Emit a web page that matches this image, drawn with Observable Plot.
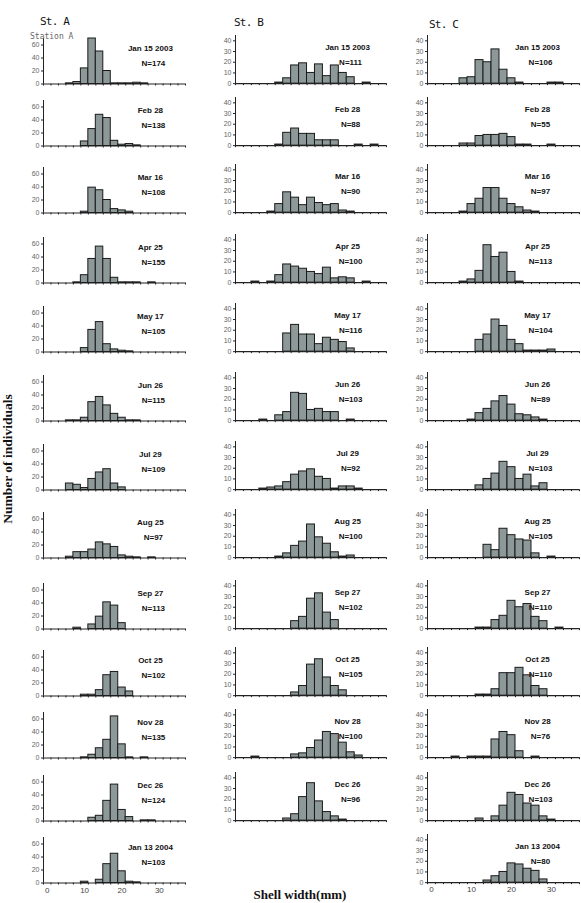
<!DOCTYPE html>
<html><head><meta charset="utf-8">
<script src="https://cdn.jsdelivr.net/npm/d3@7"></script>
<script src="https://cdn.jsdelivr.net/npm/@observablehq/plot@0.6"></script>
<style>
html,body{margin:0;padding:0;background:#fff;}
#root{position:relative;width:581px;height:903px;overflow:hidden;background:#fff;font-family:"Liberation Sans",Arial,sans-serif;}
.panel{position:absolute;}
.st{position:absolute;font-family:"DejaVu Sans Mono",monospace;font-size:11px;color:#111;letter-spacing:-0.8px;}
.sta{position:absolute;font-family:"DejaVu Sans Mono",monospace;font-size:8px;color:#666;}
.ytitle{position:absolute;font-family:"Liberation Serif","Times New Roman",serif;font-weight:bold;font-size:13.5px;color:#111;white-space:nowrap;transform:translate(-50%,-50%) rotate(-90deg);}
.xtitle{position:absolute;font-family:"Liberation Serif","Times New Roman",serif;font-weight:bold;font-size:13px;line-height:13px;color:#111;white-space:nowrap;transform:translateX(-50%);}
</style></head>
<body><div id="root"></div>
<script>
// ---- data ----
const binCenters = [0,2,4,6,8,10,12,14,16,18,20,22,24,26,28,30,32,34,36];
const binEdges = [-1,1,3,5,7,9,11,13,15,17,19,21,23,25,27,29,31,33,35,37];
const xTickLabels = [0,10,20,30];

const datesA = ["Jan 15 2003","Feb 28","Mar 16","Apr 25","May 17","Jun 26","Jul 29","Aug 25","Sep 27","Oct 25","Nov 28","Dec 26","Jan 13 2004"];
const nA = [174,138,108,155,105,115,109,97,113,102,135,124,103];
const countsA = [
  [0,0,0,1,3,24,70,50,20,1,1,1,2,1,0,0,0,0,0],
  [0,0,0,0,0,7,26,48,43,8,2,3,1,0,0,0,0,0,0],
  [0,0,0,0,0,2,39,35,20,6,4,2,0,0,0,0,0,0,0],
  [0,0,0,0,1,12,37,56,37,8,1,1,1,0,1,0,0,0,0],
  [0,0,0,0,0,6,34,46,12,4,2,1,0,0,0,0,0,0,0],
  [0,0,0,1,1,5,29,37,24,11,5,1,1,0,0,0,0,0,0],
  [0,0,0,10,8,3,17,27,32,10,4,0,0,0,0,0,0,0,0],
  [0,0,0,2,9,9,13,24,21,17,4,2,1,0,1,0,0,0,0],
  [0,0,0,0,2,0,7,19,41,36,9,0,0,0,0,0,0,0,0],
  [0,0,0,0,0,2,2,9,32,37,13,7,0,0,0,0,0,0,0],
  [0,0,0,0,0,1,5,15,28,64,21,1,0,1,0,0,0,0,0],
  [0,0,0,0,0,0,5,8,31,56,17,6,0,1,1,0,0,0,0],
  [0,0,0,0,0,2,0,5,29,45,18,2,1,0,0,0,0,0,0]
];

const datesB = ["Jan 15 2003","Feb 28","Mar 16","Apr 25","May 17","Jun 26","Jul 29","Aug 25","Sep 27","Oct 25","Nov 28","Dec 26"];
const nB = [111,88,90,100,116,103,92,100,102,105,100,96];
const countsB = [
  [0,0,0,0,0,1,5,17,19,10,18,7,17,10,6,0,1,0,0],
  [0,0,0,0,0,1,12,16,11,11,5,5,5,0,0,1,0,1,0],
  [0,0,0,0,1,8,19,14,7,14,9,7,8,2,1,0,0,0,0],
  [0,0,1,0,1,7,17,15,13,10,8,14,4,5,4,0,1,0,0],
  [0,0,0,0,0,0,17,25,16,16,7,13,11,9,3,0,0,0,0],
  [0,0,0,1,0,5,8,26,25,10,11,8,8,0,1,0,0,0,0],
  [0,0,0,1,2,3,7,14,17,19,12,10,1,3,3,1,0,0,0],
  [0,0,0,0,0,1,4,11,15,31,19,13,5,1,2,0,0,0,0],
  [0,0,0,0,0,0,0,7,11,28,33,15,8,0,0,0,0,0,0],
  [0,0,0,0,0,0,0,3,9,29,34,17,9,5,0,0,0,0,0],
  [0,0,1,0,0,0,0,3,4,9,16,24,22,14,5,2,0,0,0],
  [0,0,0,0,0,0,2,6,22,35,18,8,4,1,0,0,0,0,0]
];

const datesC = ["Jan 15 2003","Feb 28","Mar 16","Apr 25","May 17","Jun 26","Jul 29","Aug 25","Sep 27","Oct 25","Nov 28","Dec 26","Jan 13 2004"];
const nC = [106,55,97,113,104,89,103,105,110,110,76,103,80];
const countsC = [
  [0,0,0,0,5,6,22,20,32,13,5,1,0,0,0,1,1,0,0],
  [0,0,0,0,2,2,9,10,10,11,8,1,1,0,0,1,0,0,0],
  [0,0,0,0,1,8,13,23,23,13,8,5,2,1,0,0,0,0,0],
  [0,0,0,0,1,3,11,35,24,28,10,1,0,0,0,0,0,0,0],
  [0,0,0,0,0,0,11,16,30,24,11,7,1,1,1,2,0,0,0],
  [0,0,0,0,0,1,7,11,18,23,15,6,5,3,1,0,0,0,0],
  [0,0,0,0,0,0,4,10,15,26,21,10,14,3,6,0,0,0,0],
  [0,0,0,0,0,0,0,12,7,27,21,17,16,4,0,1,0,0,0],
  [0,0,0,0,0,0,1,1,8,12,26,20,23,11,7,0,1,0,0],
  [0,0,0,0,0,0,1,1,6,21,21,26,19,9,6,0,0,0,0],
  [0,0,0,1,0,1,1,1,17,24,21,6,0,1,0,0,0,0,0],
  [0,0,0,0,0,0,2,0,4,14,26,24,16,14,4,1,0,0,0],
  [0,0,0,0,0,0,0,2,6,10,18,17,13,11,3,0,0,0,0]
];

const stations = ["St. A","St. B","St. C"];
const yTicksA = [0,20,40,60];
const yTicksBC = [0,10,20,30,40];

// ---- layout ----
const rowBaseline = [83,145,212,282,351,420,489,557,628,695,757,820,882];
const columns = [
  {dates: datesA, n: nA, counts: countsA, left: 0, width: 190, axisX: 43, right: 185, yMax: 70, pxPerUnit: 0.65, yTicks: yTicksA, labelX: 27.6, showXLabels: true},
  {dates: datesB, n: nB, counts: countsB, left: 195, width: 195, axisX: 235, right: 386, yMax: 45, pxPerUnit: 1.07, yTicks: yTicksBC, labelX: 27.2, showXLabels: false},
  {dates: datesC, n: nC, counts: countsC, left: 390, width: 191, axisX: 427, right: 579, yMax: 45, pxPerUnit: 1.07, yTicks: yTicksBC, labelX: 26.5, showXLabels: true}
];

const root = document.getElementById("root");
const FILL = "#8d9998", STROKE = "#1a1a1a";

columns.forEach(col => {
  const h = col.yMax * col.pxPerUnit;
  const mt = 4;
  col.counts.forEach((cnt, i) => {
    const last = i === col.counts.length - 1;
    const mb = (last && col.showXLabels) ? 16 : 6;
    const bars = binCenters.map((c, k) => ({x1: c - 1, x2: c + 1, count: cnt[k]})).filter(d => d.count > 0);
    const marks = [
      Plot.rect(bars, {x1: "x1", x2: "x2", y1: () => 0, y2: "count", fill: FILL, stroke: STROKE, strokeWidth: 1}),
      Plot.ruleX([-1], {y1: 0, y2: col.yMax, stroke: "#222", strokeWidth: 1}),
      Plot.ruleY([0], {stroke: "#222", strokeWidth: 1.2}),
      Plot.axisY({ticks: col.yTicks, tickSize: 2, tickPadding: 2, fontSize: 7, stroke: "#222", fill: "#666", label: null}),
      Plot.axisX({ticks: binEdges, tickSize: 2, tickFormat: () => "", stroke: "#222", label: null}),
      Plot.text([col.dates[i]], {x: () => col.labelX, y: () => 36 / col.pxPerUnit, text: d => d, fontWeight: "bold", fontSize: 8, fill: "#111"}),
      Plot.text(["N=" + col.n[i]], {x: () => col.labelX, y: () => 21 / col.pxPerUnit, dx: 3, text: d => d, fontWeight: "bold", fontSize: 8, fill: "#111"})
    ];
    if (last && col.showXLabels) {
      marks.push(Plot.axisX({ticks: xTickLabels, tickSize: 0, tickPadding: 4, fontSize: 8, fill: "#444", label: null}));
    }
    const svg = Plot.plot({
      width: col.width,
      height: h + mt + mb,
      marginLeft: col.axisX - col.left,
      marginRight: col.left + col.width - col.right,
      marginTop: mt,
      marginBottom: mb,
      x: {domain: [-1, 37]},
      y: {domain: [0, col.yMax]},
      style: {background: "transparent", overflow: "visible", fontFamily: "'Liberation Sans', Arial, sans-serif"},
      marks
    });
    svg.classList.add("panel");
    svg.style.position = "absolute";
    svg.style.left = col.left + "px";
    svg.style.top = (rowBaseline[i] - h - mt) + "px";
    root.appendChild(svg);
  });
});

// station headers
const stPos = [[40, 15], [234, 16], [429, 18]];
stations.forEach((s, i) => {
  const d = document.createElement("div");
  d.className = "st"; d.textContent = s;
  d.style.left = stPos[i][0] + "px"; d.style.top = stPos[i][1] + "px";
  root.appendChild(d);
});
const sa = document.createElement("div");
sa.className = "sta"; sa.textContent = "Station A";
sa.style.left = "30px"; sa.style.top = "32px";
root.appendChild(sa);

const yt = document.createElement("div");
yt.className = "ytitle"; yt.textContent = "Number of individuals";
yt.style.left = "8px"; yt.style.top = "459px";
root.appendChild(yt);

const xt = document.createElement("div");
xt.className = "xtitle"; xt.textContent = "Shell width(mm)";
xt.style.left = "300px"; xt.style.top = "888px";
root.appendChild(xt);
</script>
</body></html>
